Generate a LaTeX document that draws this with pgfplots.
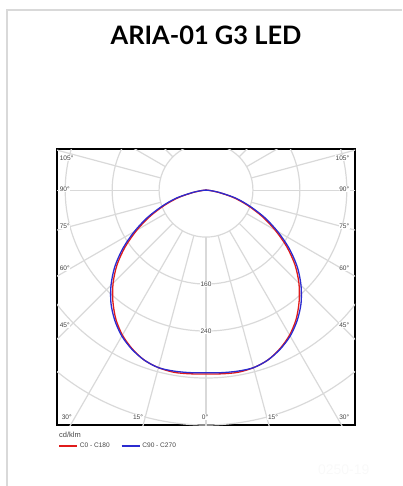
\documentclass[border=0pt]{standalone}
\usepackage{pgfplots}
\pgfplotsset{compat=1.18}
\usepackage{pgfplotstable}
\usepackage{fontspec}
\setmainfont{Liberation Sans}
\newfontfamily\titlefont{Lato}
\definecolor{gridc}{HTML}{D9D9D9}
\definecolor{cred}{HTML}{E01B1B}
\definecolor{cblue}{HTML}{2B2BD0}
\definecolor{labc}{HTML}{444444}
\newcommand{\lab}{\fontsize{6.6}{7.5}\selectfont\color{labc}}

% angle (deg from nadir), intensity (cd/klm)
\pgfplotstableread{
a r
-90 0
-85 5
-80 21
-75 48
-70 75
-65 105
-60 136
-55 168
-50 198
-45 224
-40 247
-35 268
-30 285
-25 298
-20 308
-15 313
-10 315
-5 314
0 313
5 314
10 315
15 313
20 308
25 298
30 285
35 268
40 247
45 224
50 198
55 168
60 136
65 105
70 75
75 48
80 21
85 5
90 0
}\redtab
\pgfplotstableread{
a r
-90 0
-85 6
-80 23
-75 52
-70 79
-65 110
-60 141
-55 173
-50 203
-45 229
-40 252
-35 271
-30 287
-25 299
-20 308
-15 313
-10 313
-5 312
0 311
5 312
10 313
15 313
20 308
25 299
30 287
35 271
40 252
45 229
50 203
55 173
60 141
65 110
70 79
75 52
80 23
85 6
90 0
}\bluetab

\begin{document}
\begin{tikzpicture}[x=1bp,y=1bp]
\path[use as bounding box] (0,0) rectangle (402,-486);
\draw[gray!30, line width=1.3bp] (7,-486) -- (7,-10) -- (402,-10);
\node[anchor=base, inner sep=0pt, font=\titlefont\bfseries\fontsize{25.5}{30}\selectfont] at (206,-45) {ARIA-01 G3 LED};
\begin{axis}[
  at={(57bp,-425bp)}, anchor=south west,
  scale only axis, width=298bp, height=276bp,
  xmin=-254, xmax=254, ymin=-400, ymax=70,
  xtick=\empty, ytick=\empty,
  axis line style={line width=1.3bp, black},
  legend style={at={(axis description cs:0,0)}, anchor=north west, xshift=1bp, yshift=-16bp,
    draw=none, fill=none, legend columns=2, inner sep=0pt, font=\lab,
    /tikz/every even column/.append style={column sep=9bp}},
  legend image code/.code={\draw[#1, line width=1.6bp] (0bp,0bp) -- (18bp,0bp);},
]
\pgfplotsinvokeforeach{80,160,240,320,400,480}{
  \draw[gridc, line width=1.2bp] (axis cs:0,0) circle[radius=#1];
}
\pgfplotsinvokeforeach{0,15,...,345}{
  \draw[gridc, line width=1.2bp] (axis cs:{80*sin(#1)},{-80*cos(#1)}) -- (axis cs:{700*sin(#1)},{-700*cos(#1)});
}
\node[fill=white, inner sep=0.6bp, font=\lab] at (axis cs:0,-160) {160};
\node[fill=white, inner sep=0.6bp, font=\lab] at (axis cs:0,-240) {240};
\addplot[cred, line width=1.3bp, smooth, tension=0.5] table[x expr={\thisrow{r}*sin(\thisrow{a})}, y expr={-\thisrow{r}*cos(\thisrow{a})}] {\redtab};
\addlegendentry{C0 - C180}
\addplot[cblue, line width=1.3bp, smooth, tension=0.5] table[x expr={\thisrow{r}*sin(\thisrow{a})}, y expr={-\thisrow{r}*cos(\thisrow{a})}] {\bluetab};
\addlegendentry{C90 - C270}
\end{axis}
% angle labels
\foreach \t/\yy in {105°/-158,90°/-189,75°/-226,60°/-268,45°/-325}{
  \node[anchor=west, fill=white, inner sep=0.6bp, font=\lab] at (59,\yy) {\t};
  \node[anchor=east, fill=white, inner sep=0.6bp, font=\lab] at (350,\yy) {\t};
}
\node[anchor=west, fill=white, inner sep=0.6bp, font=\lab] at (61,-417) {30°};
\node[fill=white, inner sep=0.6bp, font=\lab] at (138,-417) {15°};
\node[fill=white, inner sep=0.6bp, font=\lab] at (205,-417) {0°};
\node[fill=white, inner sep=0.6bp, font=\lab] at (273,-417) {15°};
\node[anchor=east, fill=white, inner sep=0.6bp, font=\lab] at (350,-417) {30°};
\node[anchor=west, inner sep=0pt, font=\fontsize{7.5}{8}\selectfont\color{labc}] at (59,-435) {cd/klm};
\node[anchor=base west, inner sep=0pt, font=\fontsize{14}{16}\selectfont\color{gray!5}] at (318,-474) {0250-19};
\end{tikzpicture}
\end{document}
